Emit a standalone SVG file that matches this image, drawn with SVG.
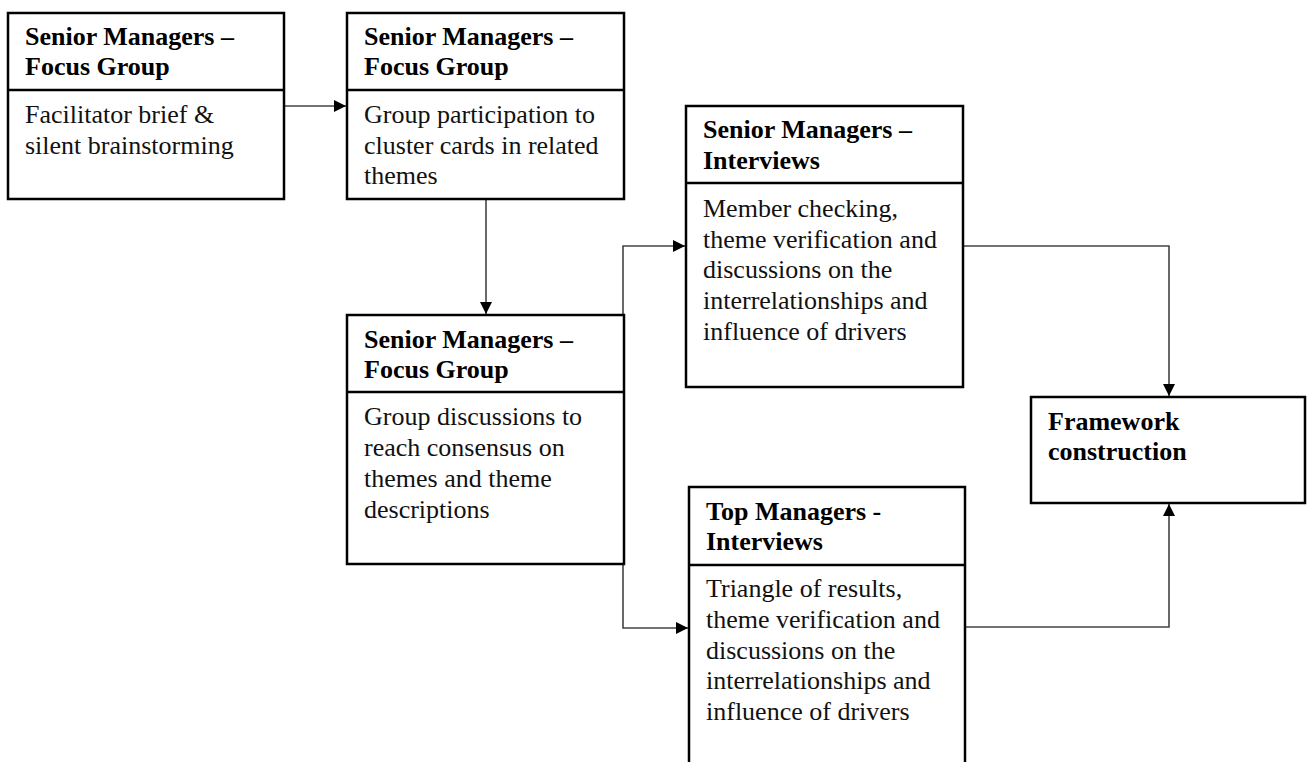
<svg xmlns="http://www.w3.org/2000/svg" width="1307" height="762" viewBox="0 0 1307 762">
<style>
.box{fill:#fff;stroke:#000;stroke-width:2.5}
.div{stroke:#000;stroke-width:2.5}
.h{font-family:"Liberation Serif","Times New Roman",serif;font-size:26px;font-weight:bold;fill:#000}
.t{font-family:"Liberation Serif","Times New Roman",serif;font-size:26px;fill:#111}
.c{fill:none;stroke:#444;stroke-width:1.6}
</style>
<defs>
<marker id="ah" markerUnits="userSpaceOnUse" markerWidth="13" markerHeight="12" refX="12" refY="6" orient="auto">
<path d="M0,0 L12,6 L0,12 z" fill="#000"/>
</marker>
</defs>
<rect width="1307" height="762" fill="#fff"/>
<g id="connectors">
<path class="c" d="M284,106 H346" marker-end="url(#ah)"/>
<path class="c" d="M486,200 V314" marker-end="url(#ah)"/>
<path class="c" d="M623,315 V246 H685" marker-end="url(#ah)"/>
<path class="c" d="M623,564 V628 H688" marker-end="url(#ah)"/>
<path class="c" d="M963,246 H1169 V396" marker-end="url(#ah)"/>
<path class="c" d="M965,627 H1169 V504" marker-end="url(#ah)"/>
</g>
<g id="n1">
<rect class="box" x="8" y="13" width="276" height="186"/>
<line class="div" x1="8" y1="90" x2="284" y2="90"/>
<text class="h" x="25" y="45">Senior Managers –</text>
<text class="h" x="25" y="75">Focus Group</text>
<text class="t" x="25" y="123">Facilitator brief &amp;</text>
<text class="t" x="25" y="154">silent brainstorming</text>
</g>
<g id="n2">
<rect class="box" x="347" y="13" width="277" height="186"/>
<line class="div" x1="347" y1="90" x2="624" y2="90"/>
<text class="h" x="364" y="45">Senior Managers –</text>
<text class="h" x="364" y="75">Focus Group</text>
<text class="t" x="364" y="123">Group participation to</text>
<text class="t" x="364" y="154">cluster cards in related</text>
<text class="t" x="364" y="184">themes</text>
</g>
<g id="n3">
<rect class="box" x="347" y="315" width="277" height="249"/>
<line class="div" x1="347" y1="392" x2="624" y2="392"/>
<text class="h" x="364" y="348">Senior Managers –</text>
<text class="h" x="364" y="378">Focus Group</text>
<text class="t" x="364" y="425">Group discussions to</text>
<text class="t" x="364" y="456">reach consensus on</text>
<text class="t" x="364" y="487">themes and theme</text>
<text class="t" x="364" y="518">descriptions</text>
</g>
<g id="n4">
<rect class="box" x="686" y="106" width="277" height="281"/>
<line class="div" x1="686" y1="183" x2="963" y2="183"/>
<text class="h" x="703" y="138">Senior Managers –</text>
<text class="h" x="703" y="169">Interviews</text>
<text class="t" x="703" y="217">Member checking,</text>
<text class="t" x="703" y="248">theme verification and</text>
<text class="t" x="703" y="278">discussions on the</text>
<text class="t" x="703" y="309">interrelationships and</text>
<text class="t" x="703" y="340">influence of drivers</text>
</g>
<g id="n5">
<rect class="box" x="689" y="487" width="276" height="290"/>
<line class="div" x1="689" y1="565" x2="965" y2="565"/>
<text class="h" x="706" y="520">Top Managers -</text>
<text class="h" x="706" y="550">Interviews</text>
<text class="t" x="706" y="597">Triangle of results,</text>
<text class="t" x="706" y="628">theme verification and</text>
<text class="t" x="706" y="659">discussions on the</text>
<text class="t" x="706" y="689">interrelationships and</text>
<text class="t" x="706" y="720">influence of drivers</text>
</g>
<g id="n6">
<rect class="box" x="1031" y="397" width="274" height="106"/>
<text class="h" x="1048" y="430">Framework</text>
<text class="h" x="1048" y="460">construction</text>
</g>
</svg>
